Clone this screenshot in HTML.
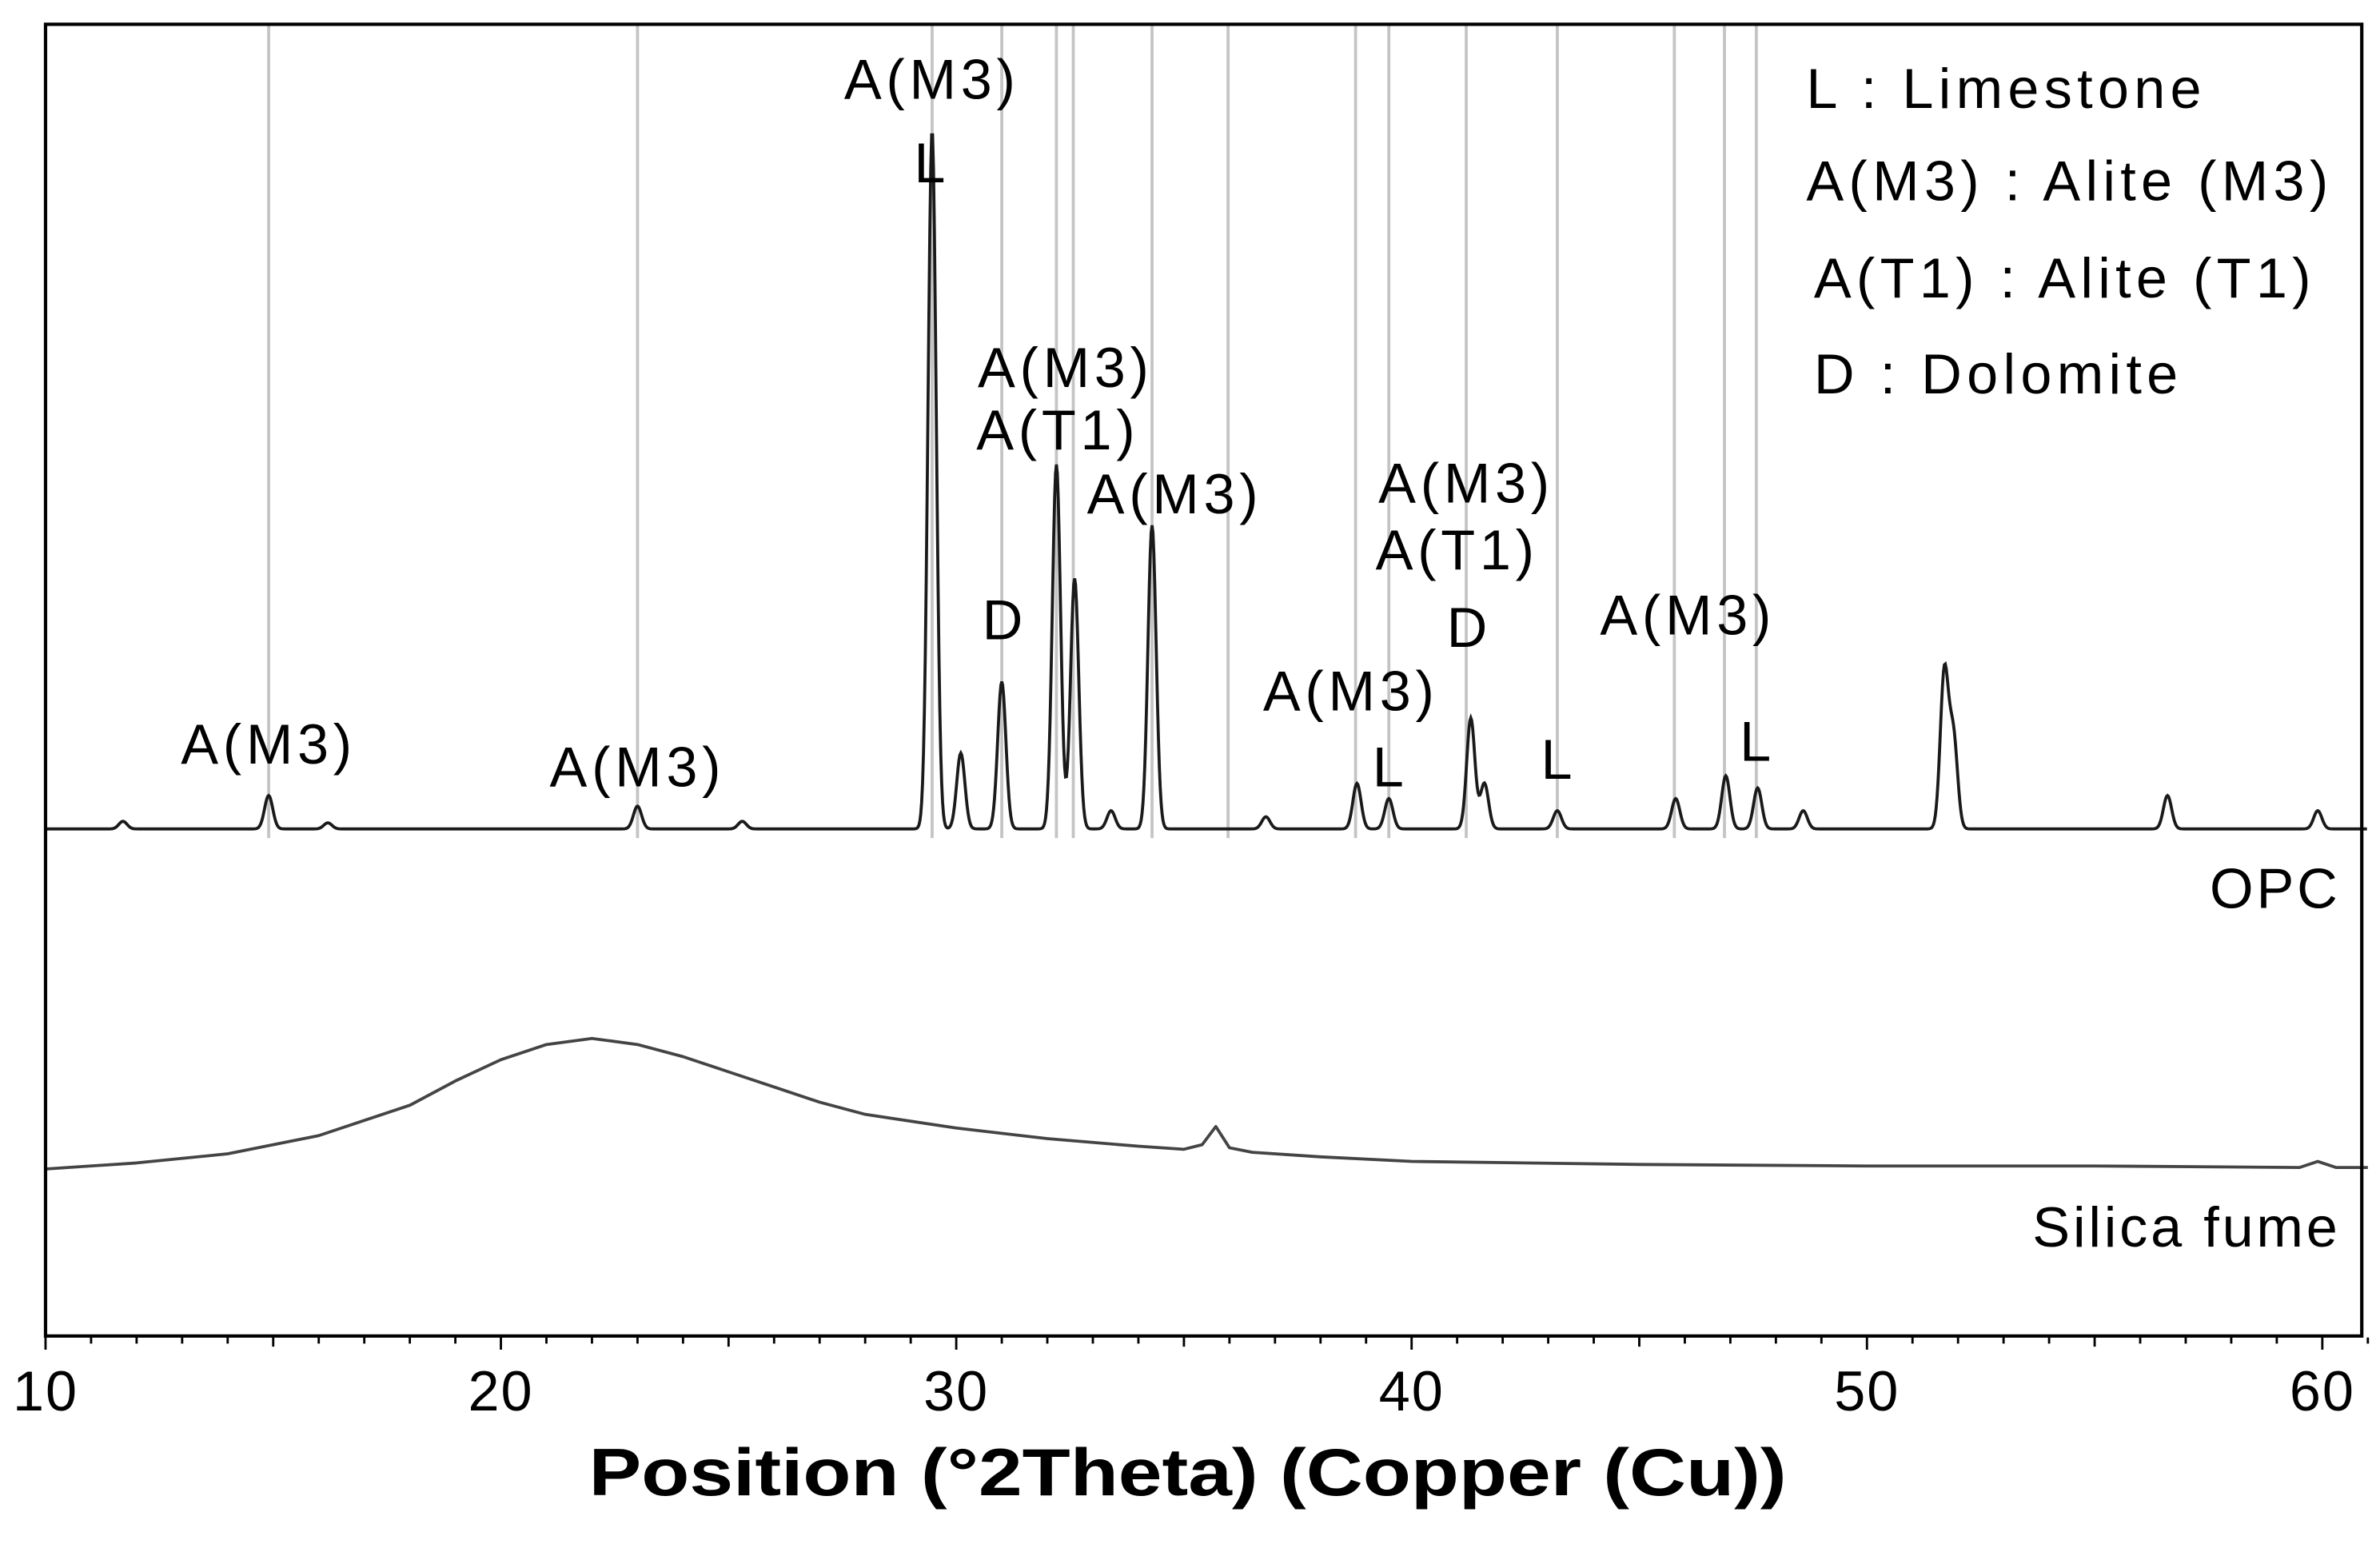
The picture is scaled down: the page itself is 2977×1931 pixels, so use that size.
<!DOCTYPE html>
<html><head><meta charset="utf-8"><style>
html,body{margin:0;padding:0;background:#fff}
svg{display:block}
text{font-family:"Liberation Sans",Arial,sans-serif;fill:#000}
</style></head><body>
<svg id="chart" width="2977" height="1931" viewBox="0 0 1568 1017" preserveAspectRatio="none" xmlns="http://www.w3.org/2000/svg">
<g id="refs"></g>
<g id="series"></g>
<rect x="30" y="16" width="1526" height="864" fill="none" stroke="#000" stroke-width="2.2"/>
<g id="ticks"></g>
<text x="388" y="985" textLength="789" lengthAdjust="spacingAndGlyphs" font-size="44" font-weight="bold">Position (°2Theta) (Copper (Cu))</text>
<g id="labels" font-size="37" letter-spacing="3" text-anchor="middle"></g>
<g font-size="37" letter-spacing="3.3">
<text x="1190" y="71">L : Limestone</text>
<text x="1190" y="132">A(M3) : Alite (M3)</text>
<text x="1195" y="196">A(T1) : Alite (T1)</text>
<text x="1195" y="259">D : Dolomite</text>
</g>
<text x="1542" y="598" text-anchor="end" font-size="37" letter-spacing="2">OPC</text>
<text x="1542" y="821" text-anchor="end" font-size="37" letter-spacing="2">Silica fume</text>
</svg>
<script>
const refLines=[14.9,23.0,29.47,31.0,32.2,32.57,34.3,35.97,38.77,39.5,41.2,43.2,45.77,46.87,47.57];
const opcPeakPos=[11.7,14.9,16.2,23.0,25.3,29.47,30.1,31.0,32.2,32.6,33.4,34.3,36.8,38.8,39.5,41.3,41.6,43.2,45.8,46.9,47.6,48.6,51.7,51.9,56.6,59.9];
const opcPeakHeight=[5,22,4,15,5,460,50,97,240,165,12,200,8,30,20,73,30,12,20,35,27,12,103,60,22,12];
const sfPos=[10,12,14,16,18,19,20,21,22,23,24,25,26,27,28,30,32,34,35,35.4,35.7,36,36.5,38,40,45,50,55,59.5,59.9,60.3,61];
const sfHeight=[0,4,10,22,42,58,72,82,86,82,74,64,54,44,36,27,20,15,13,16,28,14,11,8,5,3,2,2,1,5,1,1];
const xTicks=[10,20,30,40,50,60];
const OPC_BASE=546, SF_BASE=770;
const x=v=>30+(v-10)*30;
const NS="http://www.w3.org/2000/svg";
function mk(tag,parent){const e=document.createElementNS(NS,tag);parent.appendChild(e);return e;}
const refs=document.getElementById('refs');
refLines.forEach(v=>{const l=mk('line',refs);


l.setAttribute('x1',x(v));l.setAttribute('x2',x(v));l.setAttribute('y1',17);l.setAttribute('y2',552);l.setAttribute('stroke','#c4c4c4');l.setAttribute('stroke-width','2');});
const series=document.getElementById('series');
let d='';
for(let v=10;v<=61;v+=0.02){let h=0;opcPeakPos.forEach((p,i)=>{const w=0.09;h+=opcPeakHeight[i]*Math.exp(-((v-p)*(v-p))/(2*w*w));});
d+=(d?'L':'M')+x(v).toFixed(2)+','+(OPC_BASE-h).toFixed(2);}
const p1=mk('path',series);


p1.setAttribute('d',d);p1.setAttribute('fill','none');p1.setAttribute('stroke','#1a1a1a');p1.setAttribute('stroke-width','2');
let d2='';sfPos.forEach((v,i)=>{d2+=(i?'L':'M')+x(v).toFixed(2)+','+(SF_BASE-sfHeight[i]).toFixed(2);});
const p2=mk('path',series);


p2.setAttribute('d',d2);p2.setAttribute('fill','none');p2.setAttribute('stroke','#444');p2.setAttribute('stroke-width','2');p2.setAttribute('stroke-linejoin','round');
const ticks=document.getElementById('ticks');
for(let v=10;v<=61;v++){const l=mk('line',ticks);


const len=v%10===0?8:(v%5===0?6:4);
l.setAttribute('x1',x(v));l.setAttribute('x2',x(v));l.setAttribute('y1',881);l.setAttribute('y2',881+len);l.setAttribute('stroke','#000');l.setAttribute('stroke-width','1.5');}
xTicks.forEach(v=>{const t=mk('text',ticks);


t.setAttribute('x',x(v));t.setAttribute('y',929);t.setAttribute('text-anchor','middle');t.setAttribute('font-size','37');t.setAttribute('letter-spacing','1');t.textContent=v;});
const labelText=["A(M3)","A(M3)","A(M3)","L","A(M3)","A(T1)","A(M3)","D","A(M3)","L","A(M3)","A(T1)","D","L","A(M3)","L"];
const labelX=[177,420,614,614,702,697,774,662,890,916,966,960,968,1027,1112,1158];
const labelY=[503,518,65,120,255,296,338,421,468,518,331,375,426,513,418,501];
const lg=document.getElementById('labels');
labelText.forEach((s,i)=>{const t=mk('text',lg);


t.setAttribute('x',labelX[i]);t.setAttribute('y',labelY[i]);t.textContent=s;});
</script>
</body></html>
